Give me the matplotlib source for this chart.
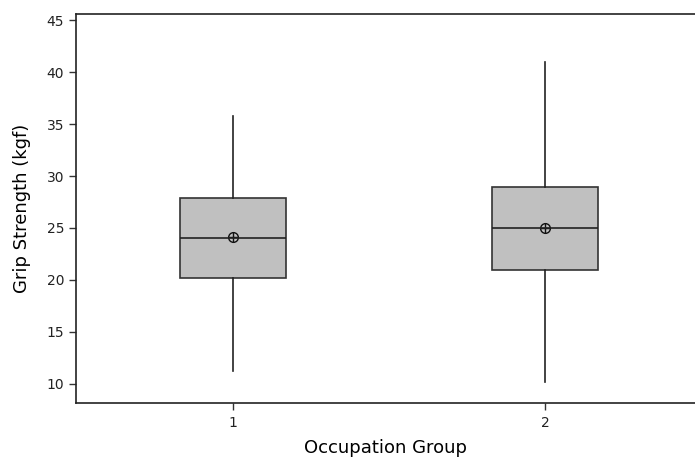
import matplotlib
matplotlib.use("Agg")
import matplotlib.pyplot as plt

groups = ["1", "2"]
whislo = [11.2, 10.2]
q1 = [20.2, 21.0]
med = [24.0, 25.0]
q3 = [27.9, 28.9]
whishi = [35.8, 41.0]
means = [24.1, 25.0]
yticks = [10, 15, 20, 25, 30, 35, 40, 45]

plt.rcParams['font.family'] = ['DejaVu Sans']
fig = plt.figure(figsize=(6.95, 4.59), dpi=100)
ax = fig.add_axes([0.1094, 0.122, 0.8906, 0.8475])

stats = []
for i, g in enumerate(groups):
    stats.append(dict(label=g, whislo=whislo[i], q1=q1[i], med=med[i],
                      q3=q3[i], whishi=whishi[i], fliers=[]))
pos = [1, 2]
ax.bxp(stats, positions=pos, widths=0.34, patch_artist=True, showcaps=False,
       boxprops=dict(facecolor="#c0c0c0", edgecolor="#333333", linewidth=1.2),
       medianprops=dict(color="#222222", linewidth=1.2),
       whiskerprops=dict(color="#222222", linewidth=1.2))
ax.plot(pos, means, linestyle="none", marker="o", markersize=7,
        markerfacecolor="none", markeredgecolor="#111111", markeredgewidth=1.0)
ax.plot(pos, means, linestyle="none", marker="+", markersize=7,
        markeredgecolor="#111111", markeredgewidth=1.0)

ax.set_xlim(0.497, 2.48)
ax.set_ylim(8.17, 45.58)
ax.set_yticks(yticks)
ax.set_xticks(pos)
ax.set_xticklabels(groups)
ax.tick_params(axis="both", labelsize=10, length=5, width=1, color="#333333", labelcolor="#222222")
ax.tick_params(axis="x", pad=4)
ax.spines["right"].set_visible(False)
for s in ["left", "top", "bottom"]:
    ax.spines[s].set_linewidth(1.2)
    ax.spines[s].set_color("#222222")
ax.set_ylabel("Grip Strength (kgf)", fontsize=13, labelpad=11)
ax.set_xlabel("Occupation Group", fontsize=13, labelpad=7)

fig.savefig("out.png", dpi=100)
